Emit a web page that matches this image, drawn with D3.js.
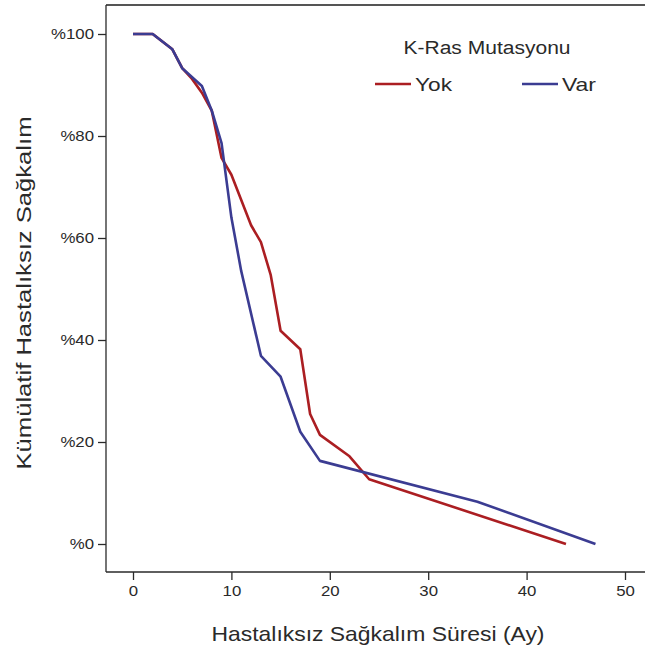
<!DOCTYPE html>
<html>
<head>
<meta charset="utf-8">
<script src="https://cdn.jsdelivr.net/npm/d3@7"></script>
<style>
  html, body { margin: 0; padding: 0; background: #fff; }
  svg { display: block; font-family: "Liberation Sans", Arial, sans-serif; }
</style>
</head>
<body>
<svg id="chart" width="645" height="653"></svg>
<script>
// Survival curves (months, cumulative disease-free survival %)
const yokMonths = [0, 2, 4, 5, 6, 7, 8, 9, 10, 12, 13, 14, 15, 17, 18, 19, 22, 24, 44];
const yokValues = [100, 100, 97, 93.3, 91.2, 88.5, 85, 75.7, 72.4, 62.5, 59.2, 52.7, 41.8, 38.2, 25.5, 21.4, 17.2, 12.7, 0];
const varMonths = [0, 2, 4, 5, 7, 8, 9, 10, 11, 13, 15, 17, 19, 35, 47];
const varValues = [100, 100, 97, 93.3, 89.8, 85, 78.6, 64, 53.5, 36.9, 32.8, 22, 16.3, 8.3, 0];

const groupNames = ["Yok", "Var"];
const groupColors = ["#ab1e22", "#3b3c92"];
const xTicks = [0, 10, 20, 30, 40, 50];
const yTicks = [0, 20, 40, 60, 80, 100];

const svg = d3.select("#chart");
const textColor = "#2a2a2a";
const stretch = 1.12; // wide glyph rendering of the tick labels

const x = d3.scaleLinear().domain([0, 50]).range([133, 625]);
const y = d3.scaleLinear().domain([0, 100]).range([544, 34]);

// plot frame (open on the right)
const frameLeft = 106, frameTop = 5, frameBottom = 572;
svg.append("line").attr("x1", frameLeft).attr("x2", 660).attr("y1", frameTop).attr("y2", frameTop)
  .attr("stroke", "#555").attr("stroke-width", 2);
svg.append("line").attr("x1", frameLeft).attr("x2", 660).attr("y1", frameBottom).attr("y2", frameBottom)
  .attr("stroke", textColor).attr("stroke-width", 1.3);
svg.append("line").attr("x1", frameLeft).attr("x2", frameLeft).attr("y1", frameTop).attr("y2", frameBottom)
  .attr("stroke", textColor).attr("stroke-width", 1.3);

// axes
const xAxis = d3.axisBottom(x).tickValues(xTicks).tickSize(8).tickSizeOuter(0).tickPadding(5);
const gx = svg.append("g").attr("transform", `translate(0,${frameBottom})`).call(xAxis);
gx.select(".domain").remove();
gx.selectAll(".tick line").attr("stroke", textColor).attr("stroke-width", 1.3);
gx.selectAll(".tick text").attr("font-size", 15).attr("fill", textColor)
  .attr("font-family", "'Liberation Sans', Arial, sans-serif")
  .attr("transform", `scale(${stretch},1)`);

const yAxis = d3.axisLeft(y).tickValues(yTicks).tickSize(8).tickSizeOuter(0).tickPadding(4)
  .tickFormat(d => "%" + d);
const gy = svg.append("g").attr("transform", `translate(${frameLeft},0)`).call(yAxis);
gy.select(".domain").remove();
gy.selectAll(".tick line").attr("stroke", textColor).attr("stroke-width", 1.3);
gy.selectAll(".tick text").attr("font-size", 15).attr("fill", textColor)
  .attr("font-family", "'Liberation Sans', Arial, sans-serif")
  .attr("x", -12 / stretch)
  .attr("transform", `scale(${stretch},1)`);

// axis titles
svg.append("text").attr("x", 378).attr("y", 641).attr("text-anchor", "middle")
  .attr("font-size", 21).attr("fill", textColor)
  .attr("textLength", 333).attr("lengthAdjust", "spacingAndGlyphs")
  .text("Hastalıksız Sağkalım Süresi (Ay)");
svg.append("text").attr("transform", "translate(31,293) rotate(-90)").attr("text-anchor", "middle")
  .attr("font-size", 21).attr("fill", textColor)
  .attr("textLength", 353).attr("lengthAdjust", "spacingAndGlyphs")
  .text("Kümülatif Hastalıksız Sağkalım");

// curves
const line = d3.line().x(d => x(d[0])).y(d => y(d[1]));
const series = [
  d3.zip(yokMonths, yokValues),
  d3.zip(varMonths, varValues)
];
series.forEach((pts, i) => {
  svg.append("path").datum(pts).attr("d", line)
    .attr("fill", "none").attr("stroke", groupColors[i]).attr("stroke-width", 2.6)
    .attr("stroke-linejoin", "round");
});

// legend
svg.append("text").attr("x", 487).attr("y", 54).attr("text-anchor", "middle")
  .attr("font-size", 18).attr("fill", textColor)
  .attr("textLength", 167).attr("lengthAdjust", "spacingAndGlyphs")
  .text("K-Ras Mutasyonu");
const legendX = [375, 522];
const legendTextWidth = [37, 34];
groupNames.forEach((name, i) => {
  const g = svg.append("g").attr("transform", `translate(${legendX[i]},84)`);
  g.append("line").attr("x1", 0).attr("x2", 36).attr("y1", 0).attr("y2", 0)
    .attr("stroke", groupColors[i]).attr("stroke-width", 2.6);
  g.append("text").attr("x", 40).attr("y", 7).attr("font-size", 19).attr("fill", textColor)
    .attr("textLength", legendTextWidth[i]).attr("lengthAdjust", "spacingAndGlyphs")
    .text(name);
});
</script>
</body>
</html>
